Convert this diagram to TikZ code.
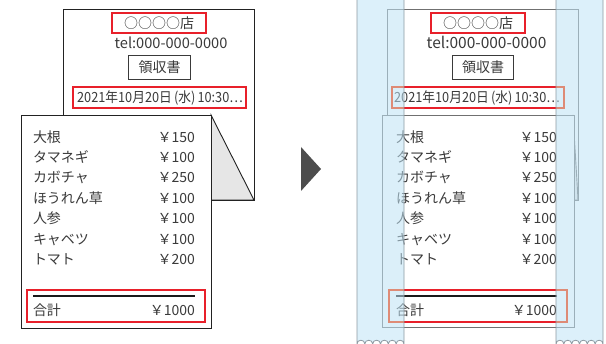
\documentclass[tikz,border=0pt]{standalone}
\usepackage{fontspec}
\setmainfont{Noto Sans CJK JP}
\definecolor{ink}{HTML}{3A3A3A}
\definecolor{edgeL}{HTML}{222222}
\definecolor{edgeR}{HTML}{707070}
\definecolor{boxred}{HTML}{E8202A}
\definecolor{salmon}{HTML}{DE8B76}
\definecolor{film}{HTML}{BFE3F5}
\definecolor{filmedge}{HTML}{8E9AA2}
\definecolor{flapgray}{HTML}{E6E6E6}
\definecolor{arrowgray}{HTML}{4D4D4D}
\newcommand{\filmstripath}[1]{(#1,0) -- (#1,344) \foreach \k in {1,...,6}{ .. controls +(0,-5) and +(0,-5) .. ++(7.8333,0)} -- (#1+47,0)}
\newcommand{\datetext}{\scalebox{0.91}[1]{2021年10月20日\,(水)\,10:30…}}
\begin{document}
\begin{tikzpicture}[x=1pt,y=-1pt,
  txt/.style={inner sep=0pt,outer sep=0pt,text=ink,font=\fontsize{14}{16}\selectfont,text height=10.4pt,text depth=0pt},
  paperL/.style={fill=white,draw=edgeL,line width=0.9pt},
  paperR/.style={fill=white,draw=edgeR,line width=0.9pt},
  redbox/.style={draw=boxred,line width=2pt},
  thinbox/.style={draw=ink,line width=0.9pt},
  rule/.style={draw=black!90,line width=2pt}]
\useasboundingbox (0,0) rectangle (606,344);

% ================= LEFT RECEIPT =================
\draw[paperL] (63,9) rectangle (254,200);
\node[txt,redbox,minimum width=94pt,minimum height=20pt] (shopL) at (159,23.5) {○○○○店};
\node[txt,font=\fontsize{14.6}{16}\selectfont,text height=10.8pt] (telL) at (171,43) {tel:000-000-0000};
\node[txt,thinbox,minimum width=62pt,minimum height=24pt] (recL) at (159.5,67.5) {領収書};
\node[redbox,inner sep=0pt,outer sep=0pt,minimum width=173pt,minimum height=21pt] (dateL) at (159.5,97.5) {};
\node[txt] (dateLt) at (160,97.5) {\datetext};
\filldraw[fill=flapgray,draw=edgeL,line width=0.9pt] (211,115) -- (254,200) -- (211,200) -- cycle;
\draw[paperL] (21,115) rectangle (211,328);
\foreach \n/\p [count=\i from 0] in {大根/150,タマネギ/100,カボチャ/250,ほうれん草/100,人参/100,キャベツ/100,トマト/200}{
  \node[txt,anchor=west] (itemL\i) at (33,137+20.4*\i) {\n};
  \node[txt,anchor=east] (priceL\i) at (195,137+20.4*\i) {￥\p};
}
\node[redbox,inner sep=0pt,outer sep=0pt,minimum width=178pt,minimum height=32pt] (totL) at (116,306) {};
\draw[rule] (33,296) -- (195,296);
\node[txt,anchor=west] (sumL) at (33,310) {合計};
\node[txt,anchor=east] (sumvL) at (195,310) {￥1000};

% ================= ARROW =================
\fill[arrowgray] (301,147) -- (321,169) -- (301,191) -- cycle;

% ================= RIGHT RECEIPT =================
\draw[paperR] (387,9) rectangle (578,200);
\node[txt,redbox,minimum width=94pt,minimum height=20pt] (shopR) at (478,23.5) {○○○○店};
\node[txt,font=\fontsize{15.5}{17}\selectfont,text height=11.5pt] (telR) at (486.5,43) {tel:000-000-0000};
\node[txt,thinbox,minimum width=61pt,minimum height=24pt] (recR) at (483,67.5) {領収書};
\node[redbox,inner sep=0pt,outer sep=0pt,minimum width=172pt,minimum height=21pt] (dateR) at (478,97.5) {};
\node[txt] (dateRt) at (477,97.5) {\datetext};
\filldraw[fill=flapgray,draw=edgeR,line width=0.9pt] (573,115) .. controls (575,150) and (577,180) .. (578,200) -- (573,200) -- cycle;
\draw[paperR] (382,115) rectangle (574,327);
\foreach \n/\p [count=\i from 0] in {大根/150,タマネギ/100,カボチャ/250,ほうれん草/100,人参/100,キャベツ/100,トマト/200}{
  \node[txt,anchor=west] (itemR\i) at (396,137+20.4*\i) {\n};
  \node[txt,anchor=east] (priceR\i) at (557,137+20.4*\i) {￥\p};
}
\node[redbox,inner sep=0pt,outer sep=0pt,minimum width=178pt,minimum height=32pt] (totR) at (478,306) {};
\draw[rule] (396,296) -- (557,296);
\node[txt,anchor=west] (sumR) at (396,310) {合計};
\node[txt,anchor=east] (sumvR) at (557,310) {￥1000};

% ================= FILM STRIPS =================
\fill[film,fill opacity=0.55] \filmstripath{357} -- cycle;
\fill[film,fill opacity=0.55] \filmstripath{556} -- cycle;
\draw[salmon,line width=2pt] (dateR.north west) rectangle (dateR.south east);
\draw[salmon,line width=2pt] (totR.north west) rectangle (totR.south east);
\begin{scope}
  \clip (404,0) rectangle (556,344);
  \draw[boxred,line width=2pt] (dateR.north west) rectangle (dateR.south east);
  \draw[boxred,line width=2pt] (totR.north west) rectangle (totR.south east);
\end{scope}
\draw[filmedge,line width=0.8pt] \filmstripath{357};
\draw[filmedge,line width=0.8pt] \filmstripath{556};
\end{tikzpicture}
\end{document}
